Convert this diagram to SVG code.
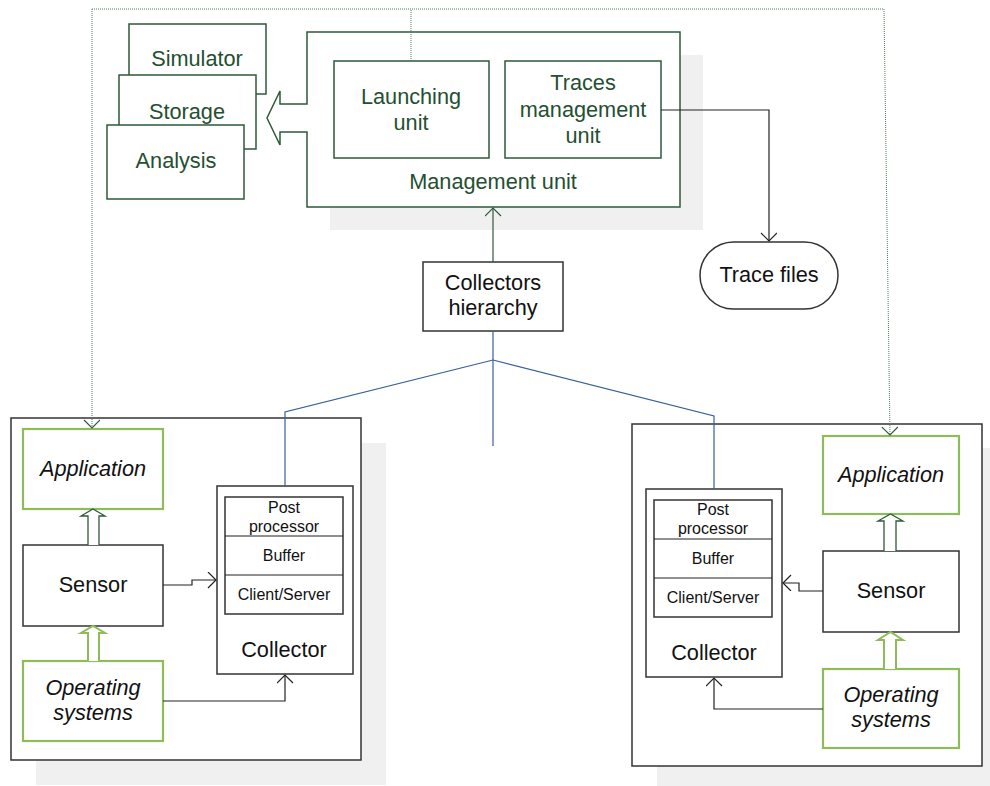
<svg xmlns="http://www.w3.org/2000/svg" width="990" height="786" viewBox="0 0 990 786">
<style>
text{font-family:"Liberation Sans",Arial,sans-serif;text-anchor:middle}
.g{fill:#244f30;font-size:21.7px}
.k{fill:#111;font-size:21.7px}
.i{fill:#111;font-size:21.7px;font-style:italic}
.s{fill:#111;font-size:16px}
.gb{fill:#fff;stroke:#2e5a3a;stroke-width:1.5}
.kb{fill:#fff;stroke:#333;stroke-width:1.5}
.lb{fill:#fff;stroke:#8fbc5a;stroke-width:2.2}
.sh{fill:#f0f0f0}
.dot{fill:none;stroke:#4f7d5a;stroke-width:1;stroke-dasharray:1 1}
.ln{fill:none;stroke:#222;stroke-width:1.2}
.gl{fill:none;stroke:#2e5a3a;stroke-width:1.2}
.bl{fill:none;stroke:#3a5f9a;stroke-width:1.2}
.ba1{fill:#fff;stroke:#2e5a3a;stroke-width:1.3}
.ba2{fill:#fff;stroke:#8fbc5a;stroke-width:2}
</style>
<defs>
<marker id="ak" markerUnits="userSpaceOnUse" markerWidth="12" markerHeight="20" refX="9" refY="8" orient="auto">
<path d="M1,0 L9,8 L1,16" fill="none" stroke="#222" stroke-width="1.2"/>
</marker>
<marker id="ag" markerUnits="userSpaceOnUse" markerWidth="12" markerHeight="20" refX="9" refY="8" orient="auto">
<path d="M1,0 L9,8 L1,16" fill="none" stroke="#2e5a3a" stroke-width="1.2"/>
</marker>
</defs>

<!-- shadows -->
<rect class="sh" x="330" y="55" width="373" height="175"/>
<rect class="sh" x="36" y="443" width="350" height="342"/>
<rect class="sh" x="657" y="448" width="350" height="342"/>

<g id="simulator">
<rect class="gb" x="129" y="24" width="137" height="70"/>
<text class="g" x="197" y="66">Simulator</text>
</g>
<g id="storage">
<rect class="gb" x="119" y="75" width="137" height="74"/>
<text class="g" x="187" y="119">Storage</text>
</g>
<g id="analysis">
<rect class="gb" x="107" y="125" width="137" height="74"/>
<text class="g" x="176" y="168">Analysis</text>
</g>

<g id="management-unit">
<path class="gb" d="M307,104 V32 H680 V207 H307 V132 H280 V145 L267,118 L280,91 V104 Z"/>
<text class="g" x="493" y="189">Management unit</text>
</g>
<g id="launching-unit">
<rect class="gb" x="334" y="61" width="155" height="97"/>
<text class="g" x="411" y="104">Launching</text>
<text class="g" x="411" y="130">unit</text>
</g>
<g id="traces-management-unit">
<rect class="gb" x="505" y="61" width="156" height="97"/>
<text class="g" x="583" y="90">Traces</text>
<text class="g" x="583" y="117">management</text>
<text class="g" x="583" y="143">unit</text>
</g>

<g id="trace-files">
<rect class="kb" x="700" y="242" width="138" height="67" rx="33.5" ry="33.5"/>
<text class="k" x="769" y="282">Trace files</text>
</g>

<g id="collectors-hierarchy">
<rect class="kb" x="423" y="262" width="140" height="69"/>
<text class="k" x="493" y="290">Collectors</text>
<text class="k" x="493" y="315">hierarchy</text>
</g>

<!-- left host -->
<g id="left-host">
<rect class="kb" x="11" y="418" width="350" height="342"/>
</g>
<g id="left-application">
<rect class="lb" x="23" y="429" width="140" height="80"/>
<text class="i" x="93" y="476">Application</text>
</g>
<g id="left-sensor">
<rect class="kb" x="23" y="545" width="140" height="81"/>
<text class="k" x="93" y="592">Sensor</text>
</g>
<g id="left-os">
<rect class="lb" x="23" y="661" width="140" height="80"/>
<text class="i" x="93" y="695">Operating</text>
<text class="i" x="93" y="720">systems</text>
</g>
<g id="left-collector">
<rect class="kb" x="217" y="486" width="136" height="188"/>
<rect class="kb" x="225" y="497" width="118" height="117"/>
<line class="ln" x1="225" y1="536" x2="343" y2="536"/>
<line class="ln" x1="225" y1="575" x2="343" y2="575"/>
<text class="s" x="284" y="513">Post</text>
<text class="s" x="284" y="532">processor</text>
<text class="s" x="284" y="561">Buffer</text>
<text class="s" x="284" y="600">Client/Server</text>
<text class="k" x="284" y="657">Collector</text>
</g>

<!-- right host -->
<g id="right-host">
<rect class="kb" x="632" y="424" width="350" height="342"/>
</g>
<g id="right-application">
<rect class="lb" x="823" y="436" width="136" height="78"/>
<text class="i" x="891" y="482">Application</text>
</g>
<g id="right-sensor">
<rect class="kb" x="823" y="551" width="136" height="81"/>
<text class="k" x="891" y="598">Sensor</text>
</g>
<g id="right-os">
<rect class="lb" x="823" y="669" width="136" height="79"/>
<text class="i" x="891" y="702">Operating</text>
<text class="i" x="891" y="727">systems</text>
</g>
<g id="right-collector">
<rect class="kb" x="646" y="489" width="136" height="188"/>
<rect class="kb" x="654" y="500" width="118" height="117"/>
<line class="ln" x1="654" y1="539" x2="772" y2="539"/>
<line class="ln" x1="654" y1="578" x2="772" y2="578"/>
<text class="s" x="713" y="515">Post</text>
<text class="s" x="713" y="534">processor</text>
<text class="s" x="713" y="564">Buffer</text>
<text class="s" x="713" y="603">Client/Server</text>
<text class="k" x="714" y="660">Collector</text>
</g>

<g id="connectors">
<!-- dotted launching links -->
<path class="dot" d="M411,61 V9"/>
<path class="dot" d="M92,9 H884"/>
<path class="dot" d="M92,9 V428" marker-end="url(#ag)"/>
<path class="dot" d="M884,9 L890,435" marker-end="url(#ag)"/>
<!-- traces to trace files -->
<path class="ln" d="M661,110 H769 V241" marker-end="url(#ak)"/>
<!-- hierarchy to management -->
<path class="gl" d="M493,262 V208" marker-end="url(#ag)"/>
<!-- blue hierarchy tree -->
<path class="bl" d="M493,331 V446"/>
<path class="bl" d="M493,360 L285,412 V486"/>
<path class="bl" d="M493,360 L714,416 V489"/>
<!-- block arrows left -->
<path class="ba1" d="M88,545 V516 H81 L93,509 L105,516 H99 V545"/>
<path class="ba2" d="M88,661 V633 H81 L93,626 L105,633 H99 V661"/>
<!-- block arrows right -->
<path class="ba1" d="M884,551 V521 H878 L890.5,514 L903,521 H896 V551"/>
<path class="ba2" d="M884,669 V640 H878 L890.5,632 L903,640 H896 V669"/>
<!-- sensor/os to collector left -->
<path class="ln" d="M163,585 H192 V580 H216" marker-end="url(#ak)"/>
<path class="ln" d="M163,701 H285 V675" marker-end="url(#ak)"/>
<!-- sensor/os to collector right -->
<path class="ln" d="M823,591 H799 V583 H783" marker-end="url(#ak)"/>
<path class="ln" d="M823,709 H714 V678" marker-end="url(#ak)"/>
</g>
</svg>
